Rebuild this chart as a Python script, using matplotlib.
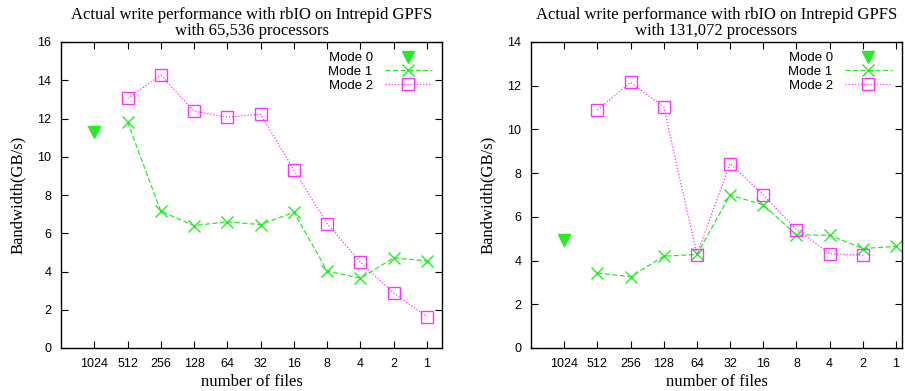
import matplotlib
matplotlib.use('Agg')
import matplotlib.pyplot as plt
import numpy as np

# ----------------------------------------------------------------------------
# Données
files = ['1024', '512', '256', '128', '64', '32', '16', '8', '4', '2', '1']

mode0_65k = [11.3]
mode1_65k = [11.82, 7.15, 6.4, 6.6, 6.45, 7.1, 4.03, 3.65, 4.72, 4.55]
mode2_65k = [13.05, 14.27, 12.38, 12.07, 12.23, 9.3, 6.5, 4.48, 2.87, 1.63]

mode0_131k = [4.93]
mode1_131k = [3.43, 3.26, 4.2, 4.28, 7.0, 6.55, 5.17, 5.16, 4.55, 4.65]
mode2_131k = [10.88, 12.15, 11.03, 4.27, 8.44, 7.0, 5.42, 4.32, 4.25]

titles = ['Actual write performance with rbIO on Intrepid GPFS\nwith 65,536 processors',
          'Actual write performance with rbIO on Intrepid GPFS\nwith 131,072 processors']

# ----------------------------------------------------------------------------
green = '#22ee22'
magenta = '#ff33ff'
serif = ['Liberation Serif', 'DejaVu Serif']
sans = ['Liberation Sans', 'DejaVu Sans']

fig = plt.figure(figsize=(9.05, 3.91), dpi=100)
ax1 = fig.add_axes([61/905, 1-348/391, 381/905, 306/391])
ax2 = fig.add_axes([531/905, 1-348/391, 371/905, 306/391])

panels = [
    (ax1, mode0_65k, mode1_65k, mode2_65k, 16, 10.45),
    (ax2, mode0_131k, mode1_131k, mode2_131k, 14, 10.18),
]

for (ax, m0, m1, m2, ymax, xmax), title in zip(panels, titles):
    x = np.arange(len(files))
    ax.plot(x[:len(m0)], m0, linestyle='none', marker='v', color=green,
            markersize=8, label='Mode 0')
    ax.plot(x[1:1+len(m1)], m1, linestyle=(0, (4, 2)), lw=0.9, marker='x',
            color=green, markersize=9, markeredgewidth=1.0, label='Mode 1')
    ax.plot(x[1:1+len(m2)], m2, linestyle=(0, (1, 1.5)), lw=0.9, marker='s',
            color=magenta, markersize=9, markerfacecolor='none',
            markeredgewidth=1.0, label='Mode 2')

    ax.set_xlim(-1, xmax)
    ax.set_ylim(0, ymax)
    ax.set_xticks(x)
    ax.set_xticklabels(files, family=sans, fontsize=9)
    ax.set_yticks(np.arange(0, ymax + 1, 2))
    ax.set_yticklabels([str(v) for v in range(0, ymax + 1, 2)], family=sans, fontsize=9)
    ax.tick_params(direction='in', top=True, right=True, length=5, width=0.8, pad=7)
    for s in ax.spines.values():
        s.set_linewidth(1.0)

    ax.set_title(title, family=serif, fontsize=12, linespacing=1.0, pad=5)
    ax.set_xlabel('number of files', family=serif, fontsize=12, labelpad=3)
    ax.set_ylabel('Bandwidth(GB/s)', family=serif, fontsize=12, labelpad=8)

    ax.legend(loc='upper right', frameon=False, markerfirst=False,
              prop={'family': sans, 'size': 9.5}, handlelength=3.6,
              labelspacing=0.12, borderaxespad=0.35, handletextpad=0.9)

fig.savefig('out.png', dpi=100)
